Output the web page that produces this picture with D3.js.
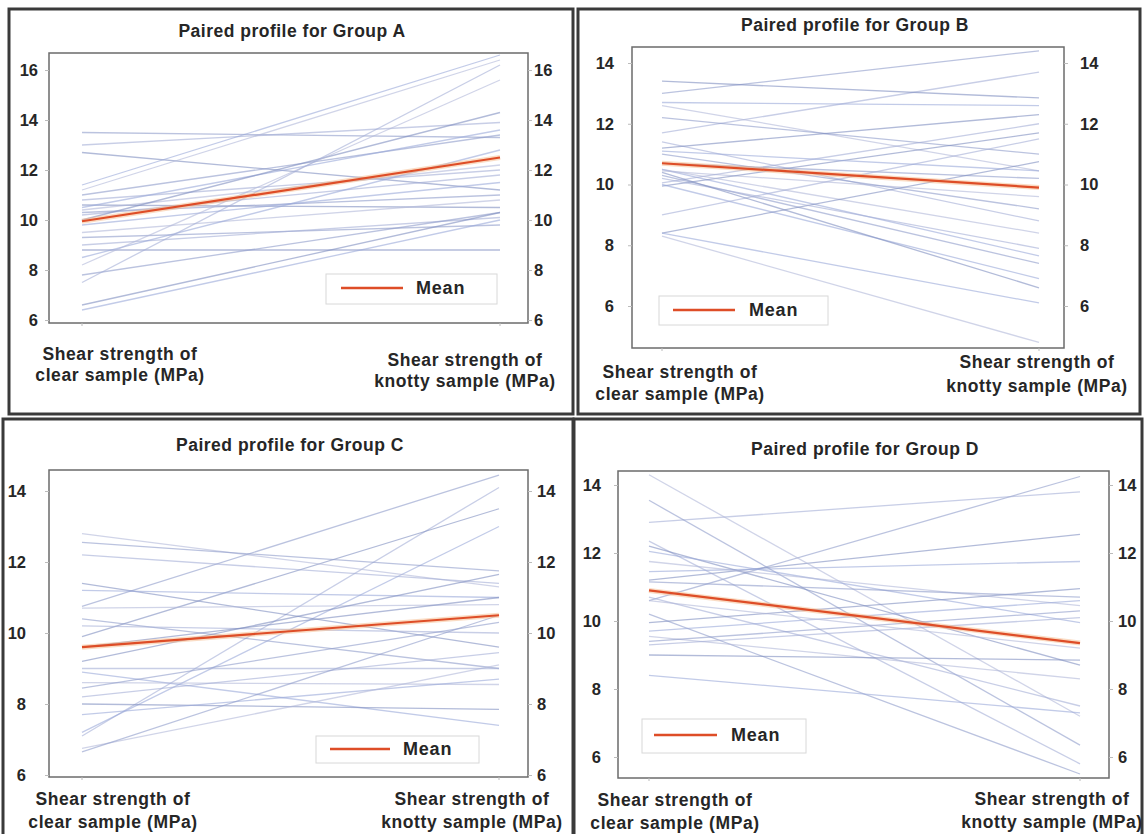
<!DOCTYPE html>
<html>
<head>
<meta charset="utf-8">
<script src="https://cdn.jsdelivr.net/npm/d3@7"></script>
<style>
  html, body { margin: 0; padding: 0; background: #fff; }
  svg { display: block; font-family: "Liberation Sans", Arial, sans-serif; }
</style>
</head>
<body>
<svg id="chart" width="1145" height="834"></svg>
<script>
// paired values: [clear, knotty]
const groupA = [
  [13.5, 13.3], [13.0, 13.9], [12.7, 11.2], [11.4, 16.6], [11.2, 16.4],
  [11.0, 13.4], [10.8, 12.0], [10.6, 10.5], [10.5, 13.6], [10.4, 12.2],
  [10.3, 11.0], [10.2, 11.8], [10.0, 14.3], [9.8, 11.5], [9.5, 10.8],
  [9.3, 9.8], [9.0, 10.1], [8.8, 8.8], [8.5, 12.8], [8.2, 15.6],
  [7.8, 10.3], [7.5, 16.2], [6.6, 10.3], [6.4, 10.0]
];
const groupB = [
  [13.0, 14.4], [11.7, 13.7], [13.4, 12.85], [12.7, 12.6], [12.6, 10.45],
  [12.2, 11.0], [11.4, 8.8], [11.2, 12.3], [10.5, 7.65], [10.45, 9.6],
  [10.3, 7.4], [10.05, 12.0], [9.95, 11.7], [10.0, 6.9], [10.5, 8.4],
  [10.7, 10.2], [9.0, 11.5], [8.4, 10.75], [8.4, 6.1], [8.3, 4.8],
  [11.0, 9.2], [10.2, 7.9], [10.4, 6.6], [11.1, 10.45]
];
const groupC = [
  [10.75, 14.45], [7.1, 14.1], [9.9, 13.5], [7.2, 13.0], [12.8, 11.3],
  [12.55, 11.75], [12.2, 11.4], [11.4, 9.6], [11.2, 11.0], [10.7, 10.8],
  [10.4, 9.0], [10.2, 10.0], [9.2, 11.65], [8.9, 7.4], [8.6, 8.55],
  [8.45, 10.3], [8.2, 9.45], [8.0, 7.85], [7.7, 8.7], [6.75, 9.1],
  [6.65, 10.5], [9.0, 9.0], [9.6, 11.0]
];
const groupD = [
  [10.6, 14.25], [12.9, 13.8], [11.2, 12.55], [11.45, 11.75], [14.3, 7.2],
  [13.55, 6.35], [12.35, 5.8], [12.2, 8.7], [12.05, 9.95], [11.75, 10.45],
  [10.2, 5.5], [10.7, 7.5], [9.95, 10.95], [9.7, 10.6], [9.55, 8.3],
  [9.4, 10.3], [9.3, 10.1], [9.0, 8.85], [8.4, 7.3], [10.6, 9.2],
  [11.15, 10.7]
];

// mean lines as drawn
const meanA = [9.95, 12.5];
const meanB = [10.7, 9.9];
const meanC = [9.6, 10.5];
const meanD = [10.9, 9.35];

const ticksA = [6, 8, 10, 12, 14, 16];
const ticksBCD = [6, 8, 10, 12, 14];

const categories = ["clear", "knotty"];
const categoryLines = [
  ["Shear strength of", "clear sample (MPa)"],
  ["Shear strength of", "knotty sample (MPa)"]
];
const titles = [
  "Paired profile for Group A",
  "Paired profile for Group B",
  "Paired profile for Group C",
  "Paired profile for Group D"
];

// layout of each panel (pixels)
const panels = [
  { title: titles[0], data: groupA, mean: meanA, ticks: ticksA, dom: [6, 16],
    border: [9, 9, 564, 405], box: [49, 53, 479, 270], yr: [320, 70], xr: [82, 500],
    tickL: 38, tickR: 534, titleXY: [292, 37],
    catL: [120, 360, 381], catR: [465, 366, 387],
    legend: [326, 274, 171, 30], legLine: [341, 403, 288], legText: 416 },
  { title: titles[1], data: groupB, mean: meanB, ticks: ticksBCD, dom: [6, 14],
    border: [578, 9, 562, 405], box: [632, 47, 432, 301], yr: [306, 63], xr: [662, 1039],
    tickL: 614, tickR: 1080, titleXY: [855, 31],
    catL: [680, 378, 400], catR: [1037, 368, 392],
    legend: [659, 296, 169, 29], legLine: [673, 735, 310], legText: 749 },
  { title: titles[2], data: groupC, mean: meanC, ticks: ticksBCD, dom: [6, 14],
    border: [3, 419, 570, 425], box: [49, 470, 479, 307], yr: [775, 491], xr: [82, 499],
    tickL: 26, tickR: 537, titleXY: [290, 451],
    catL: [113, 805, 828], catR: [472, 805, 828],
    legend: [316, 736, 163, 27], legLine: [330, 390, 749], legText: 403 },
  { title: titles[3], data: groupD, mean: meanD, ticks: ticksBCD, dom: [6, 14],
    border: [574, 419, 568, 425], box: [618, 471, 491, 307], yr: [757, 485], xr: [649, 1080],
    tickL: 601, tickR: 1118, titleXY: [865, 455],
    catL: [675, 806, 829], catR: [1052, 805, 828],
    legend: [642, 719, 164, 34], legLine: [654, 717, 735], legText: 731 }
];

const svg = d3.select("#chart");
const lineColors = ["#8e9bc9", "#a3aed6", "#7f8dc0", "#9aa9d8", "#b0b7d8"];
const textColor = "#262626";

panels.forEach((p) => {
  const g = svg.append("g");

  g.append("rect")
    .attr("x", p.border[0]).attr("y", p.border[1])
    .attr("width", p.border[2]).attr("height", p.border[3])
    .attr("fill", "#fff").attr("stroke", "#3a3a3a").attr("stroke-width", 3);

  g.append("text")
    .attr("x", p.titleXY[0]).attr("y", p.titleXY[1])
    .attr("text-anchor", "middle")
    .attr("font-size", 17.5).attr("font-weight", "bold").attr("fill", textColor)
    .attr("letter-spacing", 0.5)
    .text(p.title);

  const x = d3.scalePoint().domain(categories).range(p.xr);
  const y = d3.scaleLinear().domain(p.dom).range(p.yr);

  g.append("rect")
    .attr("x", p.box[0]).attr("y", p.box[1])
    .attr("width", p.box[2]).attr("height", p.box[3])
    .attr("fill", "none").attr("stroke", "#6b6b6b").attr("stroke-width", 1.5);

  // left and right axes
  const left = g.append("g")
    .attr("transform", `translate(${p.box[0]},0)`)
    .call(d3.axisLeft(y).tickValues(p.ticks).tickSize(4).tickPadding(p.box[0] - p.tickL - 4));
  const right = g.append("g")
    .attr("transform", `translate(${p.box[0] + p.box[2]},0)`)
    .call(d3.axisRight(y).tickValues(p.ticks).tickSize(4).tickPadding(p.tickR - p.box[0] - p.box[2] - 4));
  [left, right].forEach((a) => {
    a.select(".domain").remove();
    a.selectAll("line").attr("stroke", "#bbb");
    a.selectAll("text")
      .attr("font-size", 16.5).attr("font-weight", "bold").attr("fill", textColor)
      .attr("font-family", "Liberation Sans, Arial, sans-serif");
  });

  // small category ticks at the box bottom
  g.selectAll(".ctick").data(categories).join("line")
    .attr("x1", (d) => x(d)).attr("x2", (d) => x(d))
    .attr("y1", p.box[1] + p.box[3]).attr("y2", p.box[1] + p.box[3] + 3)
    .attr("stroke", "#bbb");

  const line = d3.line().x((d, i) => x(categories[i])).y((d) => y(d));

  g.append("g").selectAll("path").data(p.data).join("path")
    .attr("d", (d) => line(d))
    .attr("fill", "none")
    .attr("stroke", (d, i) => lineColors[i % lineColors.length])
    .attr("stroke-opacity", 0.6)
    .attr("stroke-width", 1.3);

  g.append("path")
    .attr("d", line(p.mean))
    .attr("fill", "none").attr("stroke", "#f6b98a").attr("stroke-opacity", 0.5)
    .attr("stroke-width", 5);
  g.append("path")
    .attr("d", line(p.mean))
    .attr("fill", "none").attr("stroke", "#de4d27").attr("stroke-width", 2.2);

  // category labels
  [p.catL, p.catR].forEach((c, i) => {
    const t = g.append("text")
      .attr("text-anchor", "middle")
      .attr("font-size", 17.5).attr("font-weight", "bold").attr("fill", textColor)
      .attr("letter-spacing", 0.6);
    categoryLines[i].forEach((s, j) => {
      t.append("tspan").attr("x", c[0]).attr("y", c[1 + j]).text(s);
    });
  });

  // legend
  g.append("rect")
    .attr("x", p.legend[0]).attr("y", p.legend[1])
    .attr("width", p.legend[2]).attr("height", p.legend[3])
    .attr("fill", "#fff").attr("stroke", "#d8d8d8");
  g.append("line")
    .attr("x1", p.legLine[0]).attr("x2", p.legLine[1])
    .attr("y1", p.legLine[2]).attr("y2", p.legLine[2])
    .attr("stroke", "#de4d27").attr("stroke-width", 2.5);
  g.append("text")
    .attr("x", p.legText).attr("y", p.legLine[2] + 6)
    .attr("font-size", 18).attr("font-weight", "bold").attr("fill", textColor)
    .attr("letter-spacing", 0.8)
    .text("Mean");
});
</script>
</body>
</html>
